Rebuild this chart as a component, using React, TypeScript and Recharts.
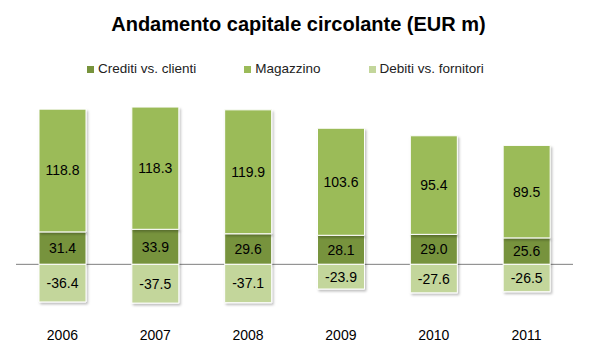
import React from "react";
import { BarChart, Bar, XAxis, YAxis, CartesianGrid, LabelList } from "recharts";

const years = ["2006", "2007", "2008", "2009", "2010", "2011"];
const crediti = [31.4, 33.9, 29.6, 28.1, 29.0, 25.6];
const magazzino = [118.8, 118.3, 119.9, 103.6, 95.4, 89.5];
const debiti = [-36.4, -37.5, -37.1, -23.9, -27.6, -26.5];

const series = [
  { key: "crediti", name: "Crediti vs. clienti", color: "#77933C" },
  { key: "magazzino", name: "Magazzino", color: "#9BBB59" },
  { key: "debiti", name: "Debiti vs. fornitori", color: "#C3D69B" },
];

const data = years.map((year, i) => ({
  year,
  crediti: crediti[i],
  magazzino: magazzino[i],
  debiti: debiti[i],
}));

const font = "'Liberation Sans', Arial, sans-serif";
const fmt = (v: any) => Number(v).toFixed(1);

export default function App() {
  return (
    <div
      style={{
        position: "absolute",
        left: 0,
        top: 0,
        width: 597,
        height: 357,
        background: "#fff",
        fontFamily: font,
      }}
    >
      <div
        style={{
          position: "absolute",
          top: 12,
          left: 0,
          width: 597,
          textAlign: "center",
          fontSize: 20,
          fontWeight: "bold",
          color: "#000",
          lineHeight: "24px",
        }}
      >
        Andamento capitale circolante (EUR m)
      </div>
      <div
        style={{
          position: "absolute",
          top: 60,
          left: 87,
          display: "flex",
          gap: 48,
          fontSize: 13.5,
          color: "#222",
          lineHeight: "18px",
        }}
      >
        {series.map((s) => (
          <div key={s.key} style={{ display: "flex", alignItems: "center" }}>
            <span
              style={{ width: 7, height: 7, background: s.color, marginRight: 4, display: "inline-block" }}
            />
            <span>{s.name}</span>
          </div>
        ))}
      </div>
      <BarChart
        width={597}
        height={357}
        data={data}
        stackOffset="sign"
        margin={{ top: 99, right: 24, bottom: 11, left: 16 }}
        style={{ position: "absolute", left: 0, top: 0 }}
      >
        <defs>
          <filter id="shadow" x="-20%" y="-20%" width="140%" height="140%">
            <feDropShadow dx="1.5" dy="2" stdDeviation="1.2" floodColor="#000" floodOpacity="0.25" />
          </filter>
        </defs>
        {/* zero line drawn as a grid line so it sits behind the bars */}
        <CartesianGrid vertical={false} horizontalValues={[0]} stroke="#7f7f7f" />
        <XAxis
          dataKey="year"
          axisLine={false}
          tickLine={false}
          tickMargin={8}
          height={30}
          tick={{ fill: "#000", fontSize: 14, fontFamily: font }}
        />
        <YAxis hide domain={[-50, 160]} />
        {series.map((s) => (
          <Bar
            key={s.key}
            dataKey={s.key}
            name={s.name}
            stackId="a"
            fill={s.color}
            stroke="#fff"
            strokeWidth={1}
            barSize={47}
            filter="url(#shadow)"
            isAnimationActive={false}
          >
            <LabelList
              dataKey={s.key}
              position="center"
              formatter={fmt}
              fill="#000"
              fontSize={14}
              fontFamily={font}
            />
          </Bar>
        ))}
      </BarChart>
    </div>
  );
}
